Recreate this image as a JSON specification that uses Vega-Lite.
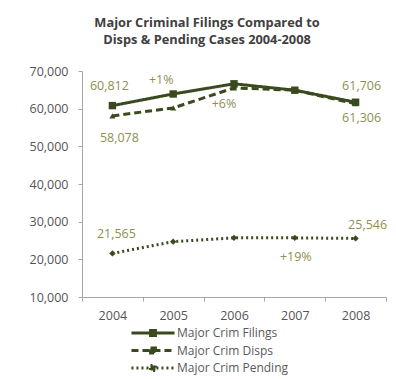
{
  "$schema": "https://vega.github.io/schema/vega-lite/v6.json",
  "autosize": {"type": "none"},
  "width": 304,
  "height": 226,
  "padding": {"left": 82, "top": 71, "right": 10, "bottom": 82},
  "background": "white",
  "config": {"view": {"stroke": null}, "font": "Open Sans"},
  "title": {
    "text": ["Major Criminal Filings Compared to", "Disps & Pending Cases 2004-2008"],
    "font": "Open Sans",
    "fontSize": 12.8,
    "fontWeight": "bold",
    "color": "#404040",
    "anchor": "middle",
    "dx": -27,
    "offset": 18,
    "lineHeight": 17.5
  },
  "data": {
    "values": [
      {"year": "2004", "series": "Major Crim Filings", "value": 60812, "note": "60,812"},
      {"year": "2005", "series": "Major Crim Filings", "value": 63900, "note": "+1%"},
      {"year": "2006", "series": "Major Crim Filings", "value": 66600, "note": ""},
      {"year": "2007", "series": "Major Crim Filings", "value": 64900, "note": ""},
      {"year": "2008", "series": "Major Crim Filings", "value": 61706, "note": "61,706"},
      {"year": "2004", "series": "Major Crim Disps", "value": 58078, "note": "58,078"},
      {"year": "2005", "series": "Major Crim Disps", "value": 60200, "note": ""},
      {"year": "2006", "series": "Major Crim Disps", "value": 65500, "note": "+6%"},
      {"year": "2007", "series": "Major Crim Disps", "value": 64900, "note": ""},
      {"year": "2008", "series": "Major Crim Disps", "value": 61306, "note": "61,306"},
      {"year": "2004", "series": "Major Crim Pending", "value": 21565, "note": "21,565"},
      {"year": "2005", "series": "Major Crim Pending", "value": 24700, "note": ""},
      {"year": "2006", "series": "Major Crim Pending", "value": 25700, "note": ""},
      {"year": "2007", "series": "Major Crim Pending", "value": 25700, "note": "+19%"},
      {"year": "2008", "series": "Major Crim Pending", "value": 25546, "note": "25,546"}
    ]
  },
  "encoding": {
    "x": {
      "field": "year",
      "type": "ordinal",
      "title": null,
      "scale": {"paddingInner": 0, "paddingOuter": 0},
      "axis": {
        "labelAngle": 0,
        "labelFont": "Open Sans",
        "labelFontSize": 12.5,
        "labelColor": "#555555",
        "labelPadding": 8,
        "domainColor": "#a6a6a6",
        "tickColor": "#a6a6a6",
        "tickBand": "extent",
        "tickSize": 4
      }
    },
    "y": {
      "field": "value",
      "type": "quantitative",
      "title": null,
      "scale": {"domain": [10000, 70000], "nice": false, "zero": false},
      "axis": {
        "values": [10000, 20000, 30000, 40000, 50000, 60000, 70000],
        "format": ",.0f",
        "grid": false,
        "labelFont": "Open Sans",
        "labelFontSize": 12.5,
        "labelColor": "#555555",
        "labelPadding": 10,
        "domainColor": "#a6a6a6",
        "tickColor": "#a6a6a6",
        "tickSize": 4
      }
    }
  },
  "layer": [
    {
      "mark": {"type": "line", "color": "#3b4a1e"},
      "encoding": {
        "strokeDash": {
          "field": "series",
          "type": "nominal",
          "scale": {
            "domain": ["Major Crim Filings", "Major Crim Disps", "Major Crim Pending"],
            "range": [[1, 0], [7, 4], [2, 3]]
          },
          "legend": {
            "title": null,
            "orient": "none",
            "legendX": 64,
            "legendY": 255,
            "padding": 0,
            "symbolType": "M-4,0H4M-0.45,-0.45H0.45V0.45H-0.45Z",
            "symbolSize": 116,
            "symbolStrokeColor": "#3b4a1e",
            "symbolFillColor": "#3b4a1e",
            "symbolStrokeWidth": 2.5,
            "labelFont": "Open Sans",
            "labelFontSize": 12,
            "labelColor": "#595959",
            "labelOffset": 17,
            "rowPadding": -0.5
          }
        },
        "strokeWidth": {
          "field": "series",
          "type": "nominal",
          "scale": {
            "domain": ["Major Crim Filings", "Major Crim Disps", "Major Crim Pending"],
            "range": [3, 3, 2]
          },
          "legend": null
        }
      }
    },
    {
      "transform": [{"filter": "datum.series === 'Major Crim Filings'"}],
      "mark": {"type": "point", "shape": "square", "size": 55, "filled": true, "color": "#3b4a1e", "opacity": 1}
    },
    {
      "transform": [{"filter": "datum.series === 'Major Crim Disps'"}],
      "mark": {"type": "point", "shape": "triangle-up", "size": 35, "filled": true, "color": "#3b4a1e", "opacity": 1}
    },
    {
      "transform": [{"filter": "datum.series === 'Major Crim Pending'"}],
      "mark": {"type": "point", "shape": "diamond", "size": 40, "filled": true, "color": "#3b4a1e", "opacity": 1}
    },
    {
      "transform": [{"filter": "datum.series === 'Major Crim Filings' && datum.year === '2004'"}],
      "mark": {"type": "text", "dx": -3, "dy": -20, "font": "Open Sans", "fontSize": 12.5, "color": "#8f8f52"},
      "encoding": {"text": {"field": "note"}}
    },
    {
      "transform": [{"filter": "datum.series === 'Major Crim Filings' && datum.year === '2005'"}],
      "mark": {"type": "text", "dx": -12, "dy": -14, "font": "Open Sans", "fontSize": 12.5, "color": "#8f8f52"},
      "encoding": {"text": {"field": "note"}}
    },
    {
      "transform": [{"filter": "datum.series === 'Major Crim Filings' && datum.year === '2008'"}],
      "mark": {"type": "text", "dx": 6, "dy": -16, "font": "Open Sans", "fontSize": 12.5, "color": "#8f8f52"},
      "encoding": {"text": {"field": "note"}}
    },
    {
      "transform": [{"filter": "datum.series === 'Major Crim Disps' && datum.year === '2004'"}],
      "mark": {"type": "text", "dx": 7, "dy": 22, "font": "Open Sans", "fontSize": 12.5, "color": "#8f8f52"},
      "encoding": {"text": {"field": "note"}}
    },
    {
      "transform": [{"filter": "datum.series === 'Major Crim Disps' && datum.year === '2006'"}],
      "mark": {"type": "text", "dx": -10, "dy": 16, "font": "Open Sans", "fontSize": 12.5, "color": "#8f8f52"},
      "encoding": {"text": {"field": "note"}}
    },
    {
      "transform": [{"filter": "datum.series === 'Major Crim Disps' && datum.year === '2008'"}],
      "mark": {"type": "text", "dx": 6, "dy": 14, "font": "Open Sans", "fontSize": 12.5, "color": "#8f8f52"},
      "encoding": {"text": {"field": "note"}}
    },
    {
      "transform": [{"filter": "datum.series === 'Major Crim Pending' && datum.year === '2004'"}],
      "mark": {"type": "text", "dx": 4, "dy": -19, "font": "Open Sans", "fontSize": 12.5, "color": "#8f8f52"},
      "encoding": {"text": {"field": "note"}}
    },
    {
      "transform": [{"filter": "datum.series === 'Major Crim Pending' && datum.year === '2007'"}],
      "mark": {"type": "text", "dx": 1, "dy": 19, "font": "Open Sans", "fontSize": 12.5, "color": "#8f8f52"},
      "encoding": {"text": {"field": "note"}}
    },
    {
      "transform": [{"filter": "datum.series === 'Major Crim Pending' && datum.year === '2008'"}],
      "mark": {"type": "text", "dx": 12, "dy": -13, "font": "Open Sans", "fontSize": 12.5, "color": "#8f8f52"},
      "encoding": {"text": {"field": "note"}}
    }
  ]
}
